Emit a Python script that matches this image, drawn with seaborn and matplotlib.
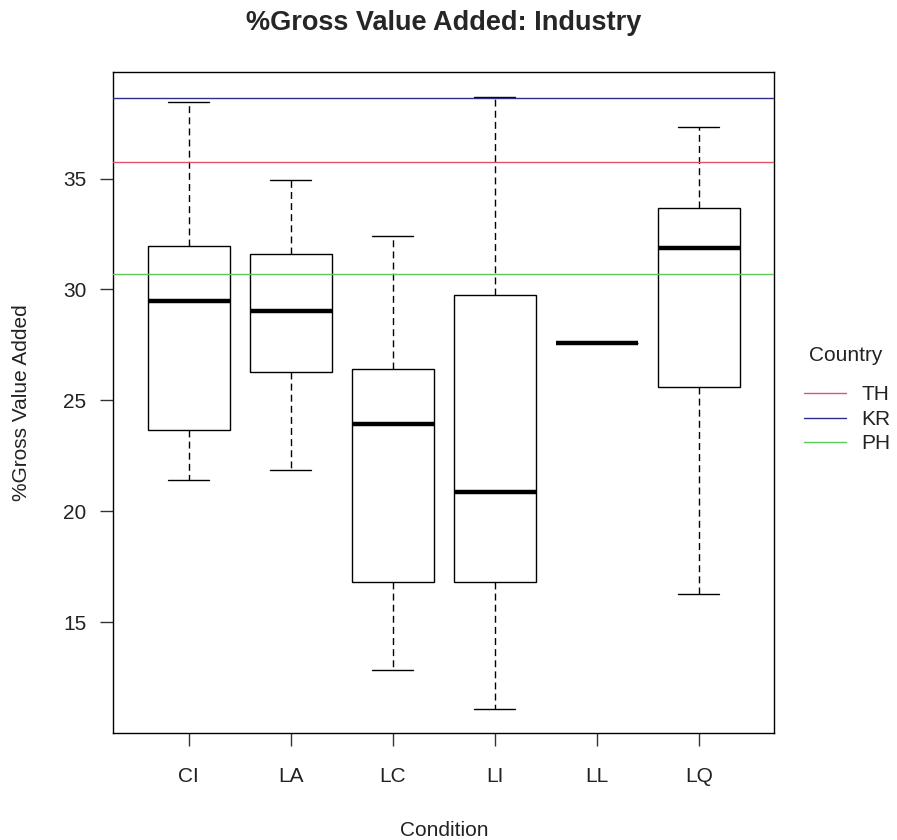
import numpy as np
import pandas as pd
import seaborn as sns
import matplotlib.pyplot as plt

# five-number summaries (min, q1, median, q3, max)
conditions = ["CI", "LA", "LC", "LI", "LL", "LQ"]
ci_vals = [21.42, 23.65, 29.46, 31.96, 38.47]
la_vals = [21.87, 26.29, 29.02, 31.59, 34.94]
lc_vals = [12.85, 16.83, 23.96, 26.40, 32.41]
li_vals = [11.10, 16.83, 20.86, 29.76, 38.68]
ll_vals = [27.61]
lq_vals = [16.26, 25.59, 31.89, 33.68, 37.32]

# reference lines per country
countries = ["TH", "KR", "PH"]
country_values = [35.75, 38.65, 30.70]
country_colors = ["#DF536B", "#2B2F8C", "#5CCB5C"]

groups = [ci_vals, la_vals, lc_vals, li_vals, ll_vals, lq_vals]
df = pd.DataFrame({
    "Condition": np.repeat(conditions, [len(g) for g in groups]),
    "Value": np.concatenate(groups),
})

sns.set_style("ticks")
plt.rcParams["font.family"] = ["Liberation Sans", "DejaVu Sans"]

fig = plt.figure(figsize=(8.97, 8.4), dpi=100)
ax = fig.add_axes([0.1263, 0.127, 0.7369, 0.7873])

sns.boxplot(data=df, x="Condition", y="Value", order=conditions,
            color="white", linecolor="black", linewidth=1.0, width=0.8,
            whis=(0, 100), showfliers=False,
            medianprops={"linewidth": 3.2},
            whiskerprops={"linestyle": (0, (5, 3))},
            ax=ax)

for name, val, col in zip(countries, country_values, country_colors):
    ax.axhline(val, color=col, lw=1.0, zorder=3, label=name)

ax.set_xlim(-0.74, 5.74)
ax.set_ylim(10.0, 39.8)
ax.set_yticks([15, 20, 25, 30, 35])
for side in ["top", "right", "bottom", "left"]:
    ax.spines[side].set_visible(True)
    ax.spines[side].set_color("black")
    ax.spines[side].set_linewidth(1.0)
ax.tick_params(axis="both", length=9.4, width=1.0, color="#333333",
               labelsize=15, labelcolor="#222222")
ax.tick_params(axis="y", pad=10)
ax.tick_params(axis="x", pad=15)

ax.set_xlabel("Condition", fontsize=15, color="#222222")
ax.set_ylabel("%Gross Value Added", fontsize=15, color="#222222")
ax.xaxis.set_label_coords(0.5, -0.133)
ax.yaxis.set_label_coords(-0.1245, 0.5)

fig.text(0.4948, 0.973, "%Gross Value Added: Industry", ha="center", va="center",
         fontsize=19.5, fontweight="bold")

# legend title placed on its own to get the wider gap above the entries
fig.text(809 / 897, 1 - 355 / 840, "Country", ha="left", va="center",
         fontsize=15, color="#222222")
fig.legend(*ax.get_legend_handles_labels(), loc="upper left",
           bbox_to_anchor=(0.885, 1 - 375 / 840), frameon=False, fontsize=15,
           handlelength=2.0, handletextpad=0.75, labelspacing=0.26,
           borderpad=0, labelcolor="#222222")

fig.savefig("out.png", dpi=100)
